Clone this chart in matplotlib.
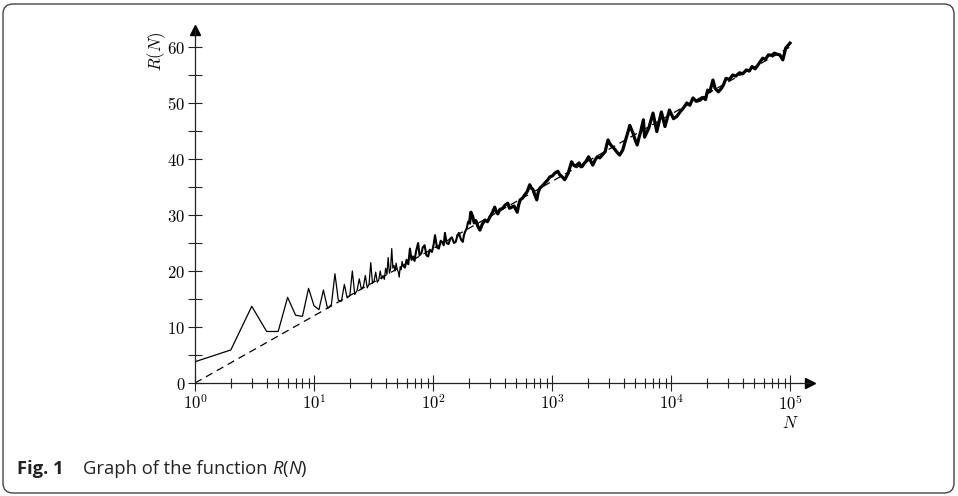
import numpy as np
import matplotlib.pyplot as plt
from matplotlib.patches import FancyBboxPatch
from matplotlib.transforms import IdentityTransform
from matplotlib.ticker import FixedLocator, FuncFormatter, NullFormatter

plt.rcParams['mathtext.fontset'] = 'cm'

# R(N)
n_vals = [1, 2, 3, 4, 5, 6, 7, 8, 9, 10,
          11, 12, 13, 14, 15, 16, 17, 18, 19, 20,
          21, 22, 23, 24, 25, 26, 27, 28, 29, 30,
          31, 32, 33, 34, 35, 36, 37, 38, 39, 40,
          41, 42, 43, 44, 45, 46, 47, 48, 49, 50,
          51, 52, 53, 54, 55, 56, 58, 60, 62, 64,
          66, 68, 70, 72, 75, 77, 80, 82, 85, 88,
          91, 94, 98, 101, 104, 108, 112, 116, 119, 123,
          126, 130, 135, 140, 144, 150, 155, 160, 165, 172,
          178, 182, 186, 192, 197, 203, 208, 215, 222, 229,
          238, 248, 260, 274, 287, 300, 315, 330, 340, 350,
          365, 385, 405, 425, 440, 450, 480, 510, 525, 540,
          565, 590, 620, 650, 670, 690, 720, 745, 765, 790,
          830, 870, 915, 960, 1010, 1060, 1120, 1160, 1220, 1280,
          1330, 1370, 1420, 1460, 1520, 1570, 1630, 1690, 1750, 1800,
          1860, 1920, 1980, 2030, 2120, 2200, 2300, 2400, 2520, 2640,
          2720, 2800, 2880, 2960, 3050, 3150, 3350, 3520, 3700, 3800,
          3930, 4100, 4280, 4400, 4500, 4650, 4800, 5000, 5200, 5380,
          5550, 5860, 6000, 6500, 7060, 7600, 8300, 8900, 9700, 10500,
          11200, 11900, 12700, 13600, 14400, 15300, 16300, 17500, 18700, 19500,
          20300, 21200, 22500, 23500, 25000, 26500, 27400, 29000, 31000, 33000,
          35000, 37700, 40000, 43000, 45500, 48000, 51000, 55000, 59000, 62000,
          66000, 70000, 74000, 78000, 82000, 87000, 92000, 100000]
r_vals = [3.8, 5.9, 13.7, 9.2, 9.2, 15.3, 12.1, 11.9, 16.9, 13.8,
          13.1, 16.6, 13.3, 14.0, 19.5, 14.8, 14.6, 17.6, 15.2, 15.6,
          20.0, 15.8, 16.5, 18.6, 16.8, 17.2, 19.2, 17.0, 17.6, 21.5,
          17.8, 18.2, 19.8, 18.0, 18.4, 20.0, 18.6, 19.2, 18.5, 20.5,
          19.4, 22.4, 19.6, 20.4, 24.0, 20.5, 21.0, 20.0, 21.4, 20.3,
          19.9, 18.9, 20.8, 20.2, 21.7, 21.0, 20.6, 22.0, 21.2, 24.0,
          22.0, 22.6, 21.8, 23.5, 25.0, 22.8, 23.2, 24.2, 24.6, 22.8,
          22.6, 23.8, 23.4, 24.6, 26.4, 24.2, 24.0, 25.4, 25.2, 24.6,
          26.8, 25.0, 24.8, 25.8, 26.0, 25.0, 25.2, 26.2, 26.8, 25.6,
          25.2, 26.4, 27.0, 27.6, 28.8, 28.6, 30.5, 29.8, 28.6, 29.0,
          28.0, 27.3, 28.4, 29.1, 28.8, 29.6, 30.4, 31.4, 30.6, 30.2,
          31.0, 31.2, 31.8, 32.1, 31.2, 31.3, 31.6, 30.5, 31.8, 32.7,
          33.0, 33.6, 34.2, 35.4, 34.8, 34.6, 33.5, 32.7, 34.0, 34.8,
          35.2, 35.7, 36.2, 36.8, 37.0, 37.5, 37.8, 37.2, 36.8, 36.3,
          37.0, 37.5, 38.6, 39.5, 38.9, 38.7, 39.0, 39.3, 38.6, 38.7,
          39.2, 39.5, 40.0, 40.4, 39.6, 38.9, 39.8, 40.4, 40.2, 40.7,
          41.0, 41.3, 42.5, 43.4, 42.8, 42.4, 41.8, 41.2, 40.7, 41.1,
          41.6, 43.0, 44.3, 45.2, 46.0, 45.3, 44.6, 43.4, 42.5, 43.8,
          44.8, 47.0, 43.9, 45.5, 48.2, 44.9, 48.4, 45.8, 48.75, 47.2,
          47.6, 48.4, 49.1, 50.0, 49.6, 50.9, 50.3, 50.5, 51.0, 50.6,
          52.3, 52.0, 54.1, 52.6, 52.0, 52.6, 53.1, 54.4, 54.2, 55.0,
          54.8, 55.4, 55.2, 55.9, 55.7, 56.5, 56.1, 57.1, 58.0, 57.8,
          58.6, 58.5, 58.9, 58.7, 58.6, 57.7, 59.8, 60.7]

# dashed reference line (straight on the log axis)
dash_n = [1, 100000]
dash_r = [0, 60]

n_arr = np.array(n_vals)
r_arr = np.array(r_vals)

fig = plt.figure(figsize=(9.58, 4.96), dpi=100)
ax = fig.add_axes([195/958, 113/496, 615/958, 353/496])

ax.plot(dash_n, dash_r, color='black', lw=0.9, dashes=(6, 4), zorder=2)
seg1 = n_arr <= 56
seg2 = (n_arr >= 56) & (n_arr <= 203)
seg3 = n_arr >= 203
ax.plot(n_arr[seg1], r_arr[seg1], color='black', lw=0.9, zorder=3)
ax.plot(n_arr[seg2], r_arr[seg2], color='black', lw=1.5, zorder=3)
ax.plot(n_arr[seg3], r_arr[seg3], color='black', lw=2.3, zorder=3)

ax.set_xscale('log')
ax.set_xlim(1, 10**(615/119))
ax.set_ylim(0, 353/5.6)

ax.xaxis.set_major_locator(FixedLocator([10**k for k in range(6)]))
ax.xaxis.set_minor_locator(FixedLocator([m*10**k for k in range(5) for m in range(2, 10)]))
ax.xaxis.set_major_formatter(FuncFormatter(lambda v, p: r'$10^{%d}$' % round(np.log10(v))))
ax.xaxis.set_minor_formatter(NullFormatter())
ax.set_yticks(range(0, 61, 10))
ax.set_yticks(range(5, 60, 10), minor=True)
ax.yaxis.set_major_formatter(FuncFormatter(lambda v, p: r'$%d$' % v))

ax.tick_params(which='both', direction='inout', width=0.8, color='#222222', labelsize=12)
ax.tick_params(axis='x', which='major', length=12, pad=2)
ax.tick_params(axis='x', which='minor', length=7)
ax.tick_params(axis='y', which='both', length=10, pad=2)

for s in ['top', 'right']:
    ax.spines[s].set_visible(False)
for s in ['left', 'bottom']:
    ax.spines[s].set_linewidth(0.9)
    ax.spines[s].set_color('#222222')

# arrow heads
ax.plot([0], [1], marker='^', ms=7, color='black', transform=ax.transAxes, clip_on=False)
ax.plot([1], [0], marker='>', ms=7, color='black', transform=ax.transAxes, clip_on=False)

ax.text(-0.062, 0.94, r'$R(N)$', transform=ax.transAxes, rotation=90,
        ha='center', va='center', fontsize=12)
ax.text(0.9675, -0.113, r'$N$', transform=ax.transAxes, ha='center', va='center', fontsize=12)

# outer frame
frame = FancyBboxPatch((3, 3), 951, 489, boxstyle='round,pad=0,rounding_size=10',
                       transform=IdentityTransform(), fill=False, edgecolor='#444444', lw=1)
fig.add_artist(frame)

# caption
parts = [('Fig. 1', 'bold', 'normal'),
         ('    Graph of the function ', 'normal', 'normal'),
         ('R', 'normal', 'italic'),
         ('(', 'normal', 'normal'),
         ('N', 'normal', 'italic'),
         (')', 'normal', 'normal')]
renderer = fig.canvas.get_renderer()
x = 17
for txt, weight, style in parts:
    t = fig.text(x, 22, txt, transform=IdentityTransform(), fontsize=13.2,
                 family='Open Sans', weight=weight, style=style, va='baseline',
                 color='#222222')
    x += t.get_window_extent(renderer).width

fig.savefig('out.png', dpi=100)
